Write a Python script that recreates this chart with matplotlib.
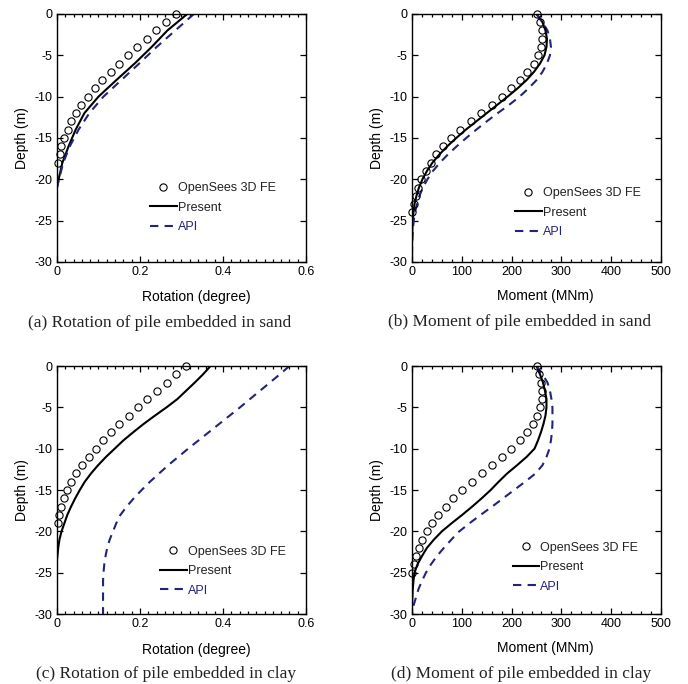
import matplotlib
matplotlib.use("Agg")
import matplotlib.pyplot as plt
from matplotlib.ticker import MultipleLocator, FuncFormatter

plt.rcParams['font.family'] = ['Liberation Sans', 'DejaVu Sans']
plt.rcParams['axes.unicode_minus'] = False

# ---- data (depth in m, rotation in degree, moment in MNm) ----
fe_depth_sand_rot = [0, -1, -2, -3, -4, -5, -6, -7, -8, -9, -10, -11, -12, -13, -14, -15, -16, -17, -18]
fe_sand_rot = [0.286, 0.262, 0.239, 0.217, 0.194, 0.171, 0.149, 0.129, 0.109, 0.091, 0.074,
               0.059, 0.046, 0.035, 0.026, 0.017, 0.010, 0.007, 0.002]
line_depth_sand_rot = [0, -2, -4, -6, -8, -10, -12, -14, -16, -18, -20, -21]
present_sand_rot = [0.314, 0.266, 0.228, 0.187, 0.143, 0.100, 0.066, 0.045, 0.028, 0.013, 0.004, 0.0]
api_sand_rot = [0.330, 0.285, 0.240, 0.198, 0.155, 0.112, 0.078, 0.052, 0.031, 0.015, 0.005, 0.0]

fe_depth_sand_mom = [0, -1, -2, -3, -4, -5, -6, -7, -8, -9, -10, -11, -12, -13, -14, -15, -16,
                     -17, -18, -19, -20, -21, -22, -23, -24]
fe_sand_mom = [250, 258, 261, 262, 259, 254, 244, 230, 216, 199, 181, 160, 139, 118, 97, 79, 63,
               48, 38, 28, 19, 13, 8, 4, 1]
line_depth_mom = [0, -1, -2, -3, -4, -5, -6, -7, -8, -9, -10, -11, -12, -13, -14, -15, -16, -17,
                  -18, -19, -20, -21, -22, -23, -24, -25, -26, -27, -28, -29, -30]
present_sand_mom = [250, 262, 268, 271, 270, 266, 257, 245, 230, 212, 192, 171, 150, 129, 108, 89,
                    71, 55, 41, 30, 21, 14, 9, 5, 3, 1.5, 0.8, 0.3, 0, 0, 0]
api_sand_mom = [250, 262, 272, 277, 279, 277, 271, 262, 250, 234, 216, 195, 172, 150, 129, 109, 90,
                72, 56, 42, 31, 22, 15, 10, 6, 3.5, 2, 1, 0.4, 0.1, 0]

fe_depth_clay_rot = [0, -1, -2, -3, -4, -5, -6, -7, -8, -9, -10, -11, -12, -13, -14, -15, -16, -17, -18, -19]
fe_clay_rot = [0.310, 0.287, 0.264, 0.241, 0.218, 0.196, 0.173, 0.150, 0.131, 0.111, 0.093,
               0.076, 0.060, 0.047, 0.035, 0.025, 0.017, 0.010, 0.006, 0.002]
present_depth_clay_rot = [0, -1, -2, -3, -4, -5, -6, -7, -8, -9, -10, -11, -12, -13, -14, -15, -16,
                          -17, -18, -19, -20, -21, -22, -23, -23.5]
present_clay_rot = [0.370, 0.352, 0.332, 0.311, 0.290, 0.264, 0.236, 0.209, 0.184, 0.160, 0.139,
                    0.118, 0.099, 0.082, 0.067, 0.055, 0.044, 0.034, 0.025, 0.018, 0.011, 0.006,
                    0.003, 0.001, 0.0]
api_depth_clay_rot = [0, -1, -2, -3, -4, -5, -6, -7, -8, -9, -10, -11, -12, -13, -14, -15, -16,
                      -17, -18, -19, -20, -21, -22, -23, -24, -25, -26, -30]
api_clay_rot = [0.560, 0.537, 0.513, 0.489, 0.465, 0.441, 0.416, 0.391, 0.366, 0.341, 0.316,
                0.292, 0.268, 0.246, 0.224, 0.204, 0.185, 0.168, 0.153, 0.143, 0.135, 0.127,
                0.121, 0.117, 0.114, 0.112, 0.111, 0.111]

fe_depth_clay_mom = [0, -1, -2, -3, -4, -5, -6, -7, -8, -9, -10, -11, -12, -13, -14, -15, -16,
                     -17, -18, -19, -20, -21, -22, -23, -24, -25]
fe_clay_mom = [250, 255, 259, 261, 261, 258, 252, 243, 230, 216, 199, 181, 160, 140, 121, 101, 83,
               68, 53, 40, 30, 21, 14, 9, 4, 1]
present_clay_mom = [250, 257, 263, 267, 270, 270, 268, 264, 259, 253, 246, 230, 211, 191, 174, 158,
                    140, 121, 101, 80, 60, 44, 30, 20, 11, 5, 3, 1.5, 0.8, 0, 0]
api_clay_mom = [250, 262, 272, 277, 280, 282, 282, 282, 281, 279, 276, 270, 262, 248, 227, 205,
                183, 161, 138, 116, 95, 79, 64, 50, 38, 28, 20, 13, 8, 3, 0]

legend_labels = ['OpenSees 3D FE', 'Present', 'API']
api_color = '#23237a'
captions = ['(a) Rotation of pile embedded in sand', '(b) Moment of pile embedded in sand',
            '(c) Rotation of pile embedded in clay', '(d) Moment of pile embedded in clay']

fig = plt.figure(figsize=(6.88, 6.84), dpi=100)
rects = [[0.0828, 0.617, 0.362, 0.3626], [0.5988, 0.617, 0.362, 0.3626],
         [0.0828, 0.1023, 0.362, 0.3626], [0.5988, 0.1023, 0.362, 0.3626]]

panels = [
    (fe_depth_sand_rot, fe_sand_rot, line_depth_sand_rot, present_sand_rot, line_depth_sand_rot, api_sand_rot, 'rot'),
    (fe_depth_sand_mom, fe_sand_mom, line_depth_mom, present_sand_mom, line_depth_mom, api_sand_mom, 'mom'),
    (fe_depth_clay_rot, fe_clay_rot, present_depth_clay_rot, present_clay_rot, api_depth_clay_rot, api_clay_rot, 'rot'),
    (fe_depth_clay_mom, fe_clay_mom, line_depth_mom, present_clay_mom, line_depth_mom, api_clay_mom, 'mom'),
]
legend_anchor = [(0.375, 0.322), (0.415, 0.302), (0.415, 0.275), (0.405, 0.292)]
caption_pos = [(160, 323), (520, 322), (166, 674), (521, 674)]

fmt = FuncFormatter(lambda v, p: '%g' % round(v, 6))

for i, (fd, fv, pd_, pv, ad, av, kind) in enumerate(panels):
    ax = fig.add_axes(rects[i])
    ax.plot(fv, fd, 'o', ms=5.2, mfc='none', mec='black', mew=0.8, label=legend_labels[0],
            clip_on=False, zorder=4)
    ax.plot(pv, pd_, '-', color='black', lw=1.5, label=legend_labels[1])
    ax.plot(av, ad, '--', color=api_color, lw=1.5, dashes=(4, 3), label=legend_labels[2])
    ax.set_ylim(-30, 0)
    if kind == 'rot':
        ax.set_xlim(0, 0.6)
        ax.xaxis.set_major_locator(MultipleLocator(0.2))
        ax.xaxis.set_minor_locator(MultipleLocator(0.02))
        ax.set_xlabel('Rotation (degree)', fontsize=10)
        ax.xaxis.set_label_coords(0.56, -0.115)
    else:
        ax.set_xlim(0, 500)
        ax.xaxis.set_major_locator(MultipleLocator(100))
        ax.xaxis.set_minor_locator(MultipleLocator(20))
        ax.set_xlabel('Moment (MNm)', fontsize=10)
        ax.xaxis.set_label_coords(0.534, -0.11)
    ax.yaxis.set_major_locator(MultipleLocator(5))
    ax.xaxis.set_major_formatter(fmt)
    ax.yaxis.set_major_formatter(fmt)
    ax.set_ylabel('Depth (m)', fontsize=10)
    ax.tick_params(which='both', direction='in', top=True, right=True, labelsize=9, pad=3, width=0.9)
    ax.tick_params(which='major', length=4)
    ax.tick_params(which='minor', length=2)
    for s in ax.spines.values():
        s.set_linewidth(1.0)
    ax.legend(loc='upper left', bbox_to_anchor=legend_anchor[i], frameon=False, fontsize=9,
              handlelength=2.1, handletextpad=0.1, labelspacing=0.6, borderpad=0,
              borderaxespad=0, labelcolor=['#222222', '#222222', api_color])
    fig.text(caption_pos[i][0] / 688, 1 - caption_pos[i][1] / 684, captions[i], ha='center', va='center',
             fontsize=12.5, family=['Liberation Serif', 'DejaVu Serif'], color='#222222')

fig.savefig('out.png', dpi=100)
